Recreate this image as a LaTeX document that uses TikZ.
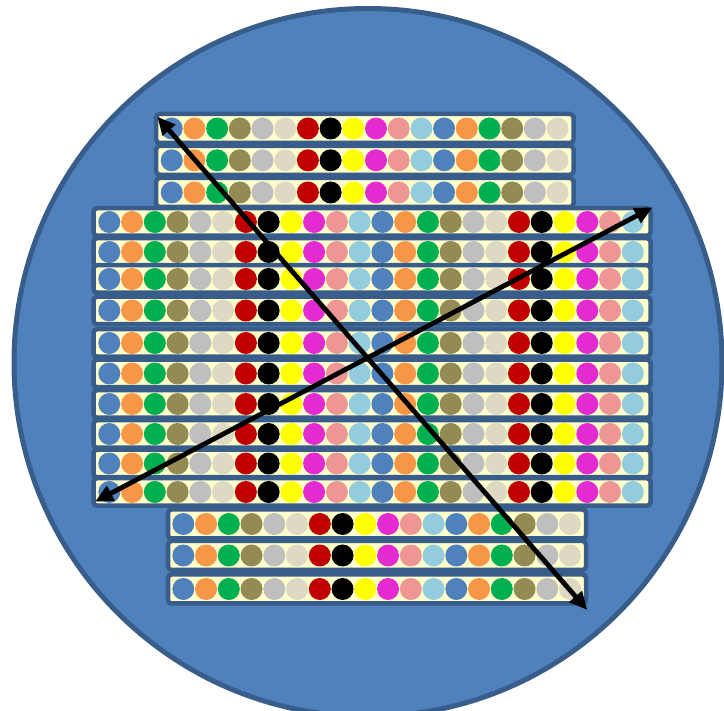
\documentclass[tikz,border=0pt]{standalone}
\usetikzlibrary{arrows.meta}
\definecolor{discfill}{HTML}{4F81BD}
\definecolor{edgeblue}{HTML}{385D8A}
\definecolor{rowfill}{HTML}{FFFFCC}
\definecolor{ca}{HTML}{4F81BD}
\definecolor{cb}{HTML}{F79646}
\definecolor{cc}{HTML}{00B050}
\definecolor{cd}{HTML}{948A54}
\definecolor{ce}{HTML}{BFBFBF}
\definecolor{cf}{HTML}{DDD9C3}
\definecolor{cg}{HTML}{C00000}
\definecolor{ch}{HTML}{000000}
\definecolor{ci}{HTML}{FFFF00}
\definecolor{cj}{HTML}{E42AD1}
\definecolor{ck}{HTML}{EE9696}
\definecolor{cl}{HTML}{93CDDD}
\begin{document}
\begin{tikzpicture}[x=1pt,y=-1pt,
  disc/.style={fill=discfill,draw=edgeblue,line width=5pt},
  rowbox/.style={fill=rowfill,draw=edgeblue,line width=4.5pt,rounded corners=3.5pt},
  bead/.style={fill=#1},
  pointer/.style={line width=4.8pt,draw=black,{Triangle[length=18pt,width=16pt]}-{Triangle[length=18pt,width=16pt]}}]
\useasboundingbox (0,0) rectangle (724,711);
\clip (0,0) rectangle (724,711);
\fill[white] (0,0) rectangle (724,711);
\path[disc] (368,362.5) circle (354pt);
% middle group
\foreach \yy in {222,252,279,310.5,343,373.5,404,434,463.5,492}{
  \path[rowbox] (93.5,\yy-13.75) rectangle (650.5,\yy+13.75);
  \foreach \cc [count=\i from 0] in {ca,cb,cc,cd,ce,cf,cg,ch,ci,cj,ck,cl,ca,cb,cc,cd,ce,cf,cg,ch,ci,cj,ck,cl}{
    \fill[bead=\cc] (109.3+\i*22.76,\yy) circle (11pt);
  }
}
% top group
\foreach \yy in {128.5,160.3,192.5}{
  \path[rowbox] (156.2,\yy-14.5) rectangle (573.5,\yy+14.5);
  \foreach \cc [count=\i from 0] in {ca,cb,cc,cd,ce,cf,cg,ch,ci,cj,ck,cl,ca,cb,cc,cd,ce,cf}{
    \fill[bead=\cc] (171.7+\i*22.7,\yy) circle (11pt);
  }
}
% bottom group
\foreach \yy in {524,555.5,589}{
  \path[rowbox] (168,\yy-14.5) rectangle (586,\yy+14.5);
  \foreach \cc [count=\i from 0] in {ca,cb,cc,cd,ce,cf,cg,ch,ci,cj,ck,cl,ca,cb,cc,cd,ce,cf}{
    \fill[bead=\cc] (183.3+\i*22.75,\yy) circle (11pt);
  }
}
\coordinate (tl) at (157.3,116.7);
\coordinate (br) at (587.3,610);
\coordinate (bl) at (95,501.7);
\coordinate (tr) at (652.7,207.3);
\draw[pointer] (tl) -- (br);
\draw[pointer] (bl) -- (tr);
\end{tikzpicture}
\end{document}
